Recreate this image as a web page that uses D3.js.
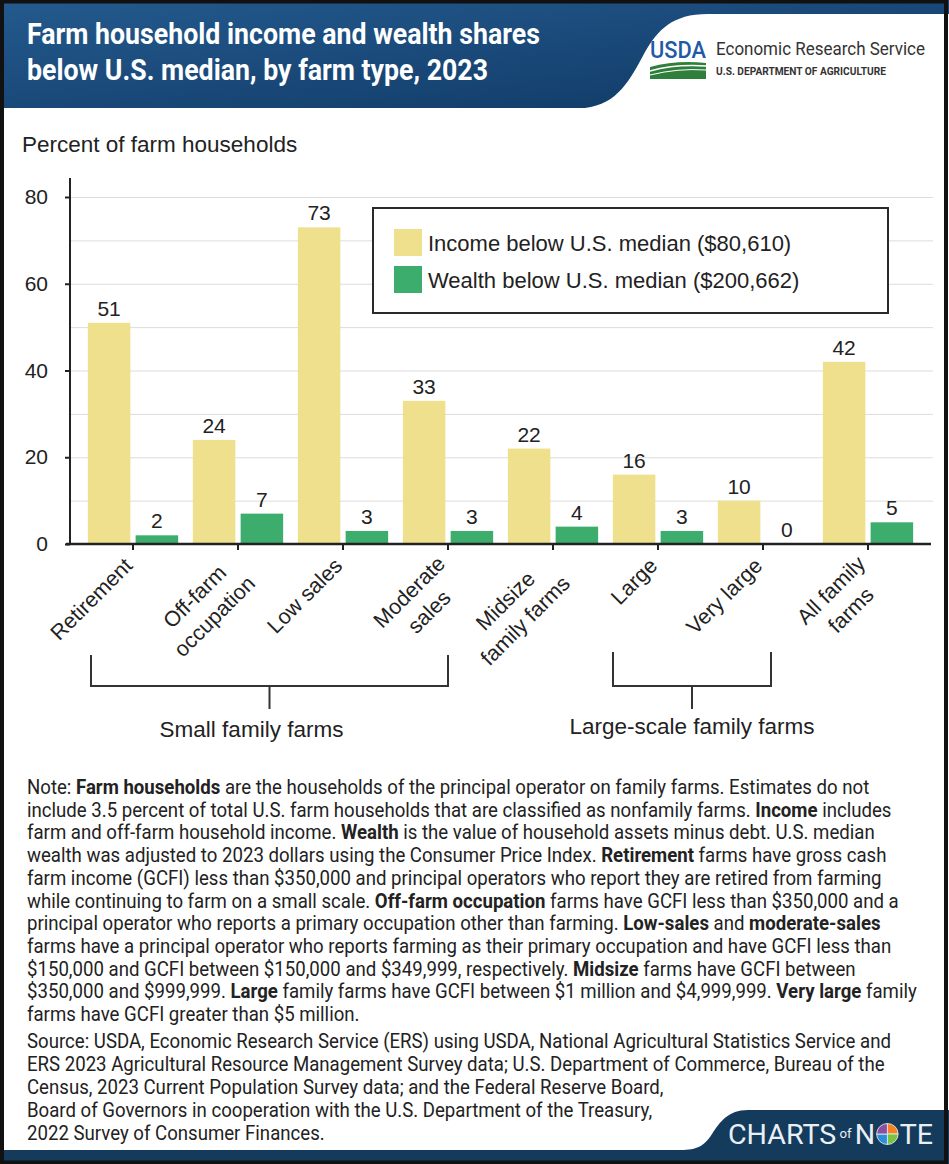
<!DOCTYPE html>
<html>
<head>
<meta charset="utf-8">
<script src="https://cdn.jsdelivr.net/npm/d3@7"></script>
<style>
  body { margin: 0; background: #fff; }
  svg { display: block; }
</style>
</head>
<body>
<svg id="chart" width="949" height="1164"></svg>
<script>
// data
const categories = ["Retirement", "Off-farm occupation", "Low sales", "Moderate sales",
  "Midsize family farms", "Large", "Very large", "All family farms"];
const labelLines = [["Retirement"], ["Off-farm", "occupation"], ["Low sales"], ["Moderate", "sales"],
  ["Midsize", "family farms"], ["Large"], ["Very large"], ["All family", "farms"]];
const incomeBelow = [51, 24, 73, 33, 22, 16, 10, 42];
const wealthBelow = [2, 7, 3, 3, 4, 3, 0, 5];
const yTicks = [0, 20, 40, 60, 80];
const gridTicks = [10, 20, 30, 40, 50, 60, 70, 80];
const seriesKeys = ["income", "wealth"];
const seriesNames = ["Income below U.S. median ($80,610)", "Wealth below U.S. median ($200,662)"];
const seriesColors = ["#efe08d", "#3dad6d"];
const groups = [
  { label: "Small family farms", from: "Retirement", to: "Moderate sales" },
  { label: "Large-scale family farms", from: "Large", to: "Very large" }
];
const titleLines = ["Farm household income and wealth shares", "below U.S. median, by farm type, 2023"];
const yTitle = "Percent of farm households";
const noteLines = [
  "Note: **Farm households** are the households of the principal operator on family farms. Estimates do not",
  "include 3.5 percent of total U.S. farm households that are classified as nonfamily farms. **Income** includes",
  "farm and off-farm household income. **Wealth** is the value of household assets minus debt. U.S. median",
  "wealth was adjusted to 2023 dollars using the Consumer Price Index. **Retirement** farms have gross cash",
  "farm income (GCFI) less than $350,000 and principal operators who report they are retired from farming",
  "while continuing to farm on a small scale. **Off-farm occupation** farms have GCFI less than $350,000 and a",
  "principal operator who reports a primary occupation other than farming. **Low-sales** and **moderate-sales**",
  "farms have a principal operator who reports farming as their primary occupation and have GCFI less than",
  "$150,000 and GCFI between $150,000 and $349,999, respectively. **Midsize** farms have GCFI between",
  "$350,000 and $999,999. **Large** family farms have GCFI between $1 million and $4,999,999. **Very large** family",
  "farms have GCFI greater than $5 million."
];
const sourceLines = [
  "Source: USDA, Economic Research Service (ERS) using USDA, National Agricultural Statistics Service and",
  "ERS 2023 Agricultural Resource Management Survey data; U.S. Department of Commerce, Bureau of the",
  "Census, 2023 Current Population Survey data; and the Federal Reserve Board,",
  "Board of Governors in cooperation with the U.S. Department of the Treasury,",
  "2022 Survey of Consumer Finances."
];
const logoColors = ["#f58220", "#7cc242", "#2b8fd8", "#8c4f9f"];

const svg = d3.select("#chart");
const W = 949, H = 1164;
const chartFont = "'Liberation Sans', Arial, sans-serif";
const noteFont = "Roboto, 'Liberation Sans', sans-serif";
const ink = "#222";

svg.append("rect").attr("width", W).attr("height", H).attr("fill", "#fff");

// ---- header band ----
const defs = svg.append("defs");
const grad = defs.append("linearGradient").attr("id", "hdr")
  .attr("x1", 0).attr("y1", 0).attr("x2", 1).attr("y2", 1);
grad.append("stop").attr("offset", 0).attr("stop-color", "#245a8e");
grad.append("stop").attr("offset", 1).attr("stop-color", "#0f3864");

svg.append("rect").attr("x", 0).attr("y", 0).attr("width", W).attr("height", 108).attr("fill", "url(#hdr)");
svg.append("path")
  .attr("d", "M949,14 L708,14 C672,14 658,30 645,52 C630,80 618,104 585,108 L949,108 Z")
  .attr("fill", "#fff");

// title, squeezed to the condensed look
const title = svg.append("g");
titleLines.forEach((t, i) => {
  title.append("text")
    .attr("y", 44 + i * 36)
    .attr("fill", "#fff")
    .attr("font-family", noteFont)
    .attr("font-weight", 700)
    .attr("font-size", 29)
    .text(t);
});
const tw = title.select("text").node().getComputedTextLength();
title.attr("transform", `translate(27,0) scale(${513 / tw},1)`);

// USDA logo
svg.append("text").attr("x", 650).attr("y", 58).attr("font-family", noteFont)
  .attr("font-size", 24).attr("font-weight", 500).attr("fill", "#1f5aa8")
  .attr("textLength", 56).attr("lengthAdjust", "spacingAndGlyphs").text("USDA");
svg.append("path").attr("d", "M650,79 L650,67 Q676,60 706,63 L706,79 Z").attr("fill", "#2f7f3c");
svg.append("path").attr("d", "M650,71 Q675,64 706,66").attr("fill", "none").attr("stroke", "#fff").attr("stroke-width", 1.5);
svg.append("path").attr("d", "M650,75 Q678,68 706,70").attr("fill", "none").attr("stroke", "#fff").attr("stroke-width", 1);
svg.append("text").attr("x", 716).attr("y", 55).attr("font-family", noteFont)
  .attr("font-size", 18).attr("fill", "#333")
  .attr("textLength", 209).attr("lengthAdjust", "spacingAndGlyphs").text("Economic Research Service");
svg.append("text").attr("x", 716).attr("y", 75).attr("font-family", noteFont)
  .attr("font-size", 10).attr("font-weight", 700).attr("fill", "#333")
  .attr("textLength", 170).attr("lengthAdjust", "spacingAndGlyphs").text("U.S. DEPARTMENT OF AGRICULTURE");

// ---- chart ----
const x0 = d3.scaleBand().domain(categories).range([80.5, 920.5]).paddingInner(0.14).paddingOuter(0.07);
const x1 = d3.scaleBand().domain(seriesKeys).range([0, x0.bandwidth()]).paddingInner(0.11);
const y = d3.scaleLinear().domain([0, 80]).range([544, 197]);
const color = d3.scaleOrdinal().domain(seriesKeys).range(seriesColors);

const rows = categories.map((c, i) => ({ cat: c, income: incomeBelow[i], wealth: wealthBelow[i] }));

svg.append("text").attr("x", 22).attr("y", 152).attr("font-family", chartFont)
  .attr("font-size", 22.5).attr("fill", ink).text(yTitle);

// gridlines
svg.append("g")
  .attr("transform", "translate(70,0)")
  .call(d3.axisLeft(y).tickValues(gridTicks).tickSize(-863).tickFormat(""))
  .call(g => g.select(".domain").remove())
  .call(g => g.selectAll("line").attr("stroke", "#dcdcdc").attr("stroke-width", 1));

// y axis
const yAxis = svg.append("g")
  .attr("transform", "translate(70,0)")
  .call(d3.axisLeft(y).tickValues(yTicks).tickSize(5).tickPadding(17))
  .call(g => g.select(".domain").remove());
yAxis.selectAll("line").attr("stroke", ink).attr("stroke-width", 2);
yAxis.selectAll("text").attr("font-family", chartFont).attr("font-size", 21).attr("fill", ink);
svg.append("line").attr("x1", 70).attr("x2", 70).attr("y1", 178).attr("y2", y(0))
  .attr("stroke", ink).attr("stroke-width", 2);

// bars
const catG = svg.append("g").selectAll("g").data(rows).join("g")
  .attr("transform", d => `translate(${x0(d.cat)},0)`);
catG.selectAll("rect").data(d => seriesKeys.map(k => ({ key: k, value: d[k] }))).join("rect")
  .attr("x", d => x1(d.key))
  .attr("y", d => y(d.value))
  .attr("width", x1.bandwidth())
  .attr("height", d => y(0) - y(d.value))
  .attr("fill", d => color(d.key));
catG.selectAll("text").data(d => seriesKeys.map(k => ({ key: k, value: d[k] }))).join("text")
  .attr("x", d => x1(d.key) + x1.bandwidth() / 2)
  .attr("y", d => y(d.value) - 7)
  .attr("text-anchor", "middle")
  .attr("font-family", chartFont).attr("font-size", 21).attr("fill", ink)
  .text(d => d.value);

// x axis
const xAxis = svg.append("g")
  .attr("transform", `translate(0,${y(0)})`)
  .call(d3.axisBottom(x0).tickSize(6).tickFormat("").tickSizeOuter(0));
xAxis.select(".domain").attr("d", "M66,0H931").attr("stroke", ink).attr("stroke-width", 2.5);
xAxis.selectAll(".tick line").attr("stroke", ink).attr("stroke-width", 2);

// rotated category labels
categories.forEach((c, i) => {
  const g = svg.append("g")
    .attr("transform", `translate(${x0(c) + x0.bandwidth() / 2},548) rotate(-45)`);
  const lines = labelLines[i];
  const ts = lines.map(t => g.append("text")
    .attr("font-family", chartFont).attr("font-size", 21.5).attr("fill", ink).text(t));
  if (lines.length === 1) {
    ts[0].attr("text-anchor", "end").attr("x", -13).attr("y", 14);
  } else {
    const maxW = d3.max(ts, t => t.node().getComputedTextLength());
    ts.forEach((t, j) => t.attr("text-anchor", "middle").attr("x", -13 - maxW / 2).attr("y", 11 + j * 28));
  }
});

// group brackets
const cx = c => x0(c) + x0.bandwidth() / 2;
const brackets = [
  { left: cx(groups[0].from) - 42, right: cx(groups[0].to), top: 655, ly: 737, dx: -18 },
  { left: cx(groups[1].from) - 45, right: cx(groups[1].to) + 8, top: 652, ly: 734, dx: 0 }
];
brackets.forEach((b, i) => {
  const mid = (b.left + b.right) / 2;
  svg.append("path")
    .attr("d", `M${b.left},${b.top}V686H${b.right}V${b.top}M${mid},686V709`)
    .attr("fill", "none").attr("stroke", "#333").attr("stroke-width", 2);
  svg.append("text").attr("x", mid + b.dx).attr("y", b.ly)
    .attr("text-anchor", "middle").attr("font-family", chartFont)
    .attr("font-size", 22.5).attr("fill", ink).text(groups[i].label);
});

// legend
const lg = svg.append("g");
lg.append("rect").attr("x", 373).attr("y", 208).attr("width", 515).attr("height", 105)
  .attr("fill", "#fff").attr("stroke", "#2a2a2a").attr("stroke-width", 2);
seriesKeys.forEach((k, i) => {
  lg.append("rect").attr("x", 394).attr("y", 229 + i * 37).attr("width", 28).attr("height", 27)
    .attr("fill", color(k));
  lg.append("text").attr("x", 428).attr("y", 251 + i * 37)
    .attr("font-family", chartFont).attr("font-size", 22).attr("fill", ink).text(seriesNames[i]);
});

// ---- notes ----
function richLine(parent, str, yy) {
  const t = parent.append("text").attr("y", yy).attr("font-family", noteFont)
    .attr("font-size", 20.5).attr("fill", ink);
  str.split("**").forEach((seg, k) => {
    if (seg) t.append("tspan").attr("font-weight", k % 2 ? 700 : 400).text(seg);
  });
  return t;
}
const notes = svg.append("g");
const noteTexts = noteLines.map((s, i) => richLine(notes, s, 794 + i * 22.7));
sourceLines.forEach((s, i) => richLine(notes, s, 1048 + i * 23));
const longest = noteTexts[9].node().getComputedTextLength();
notes.attr("transform", `translate(27,0) scale(${890 / longest},1)`);

// ---- footer ----
svg.append("path")
  .attr("d", "M949,1110 L748,1110 C728,1110 720,1122 712,1134 C704,1146 698,1150 680,1150 L0,1150 L0,1164 L949,1164 Z")
  .attr("fill", "#143a5c");
const brand = svg.append("g");
let bx = 0;
function brandText(t, size, yy) {
  const el = brand.append("text").attr("x", bx).attr("y", yy).attr("font-family", noteFont)
    .attr("font-size", size).attr("fill", "#e9f0f4").text(t);
  bx += el.node().getComputedTextLength();
}
brandText("CHARTS", 28, 0); bx += 3;
brandText("of", 13, -6); bx += 3;
brandText("N", 28, 0); bx += 1;
const pie = d3.pie().sort(null)([1, 1, 1, 1]);
const arc = d3.arc().innerRadius(0).outerRadius(10.5);
brand.append("g").attr("transform", `translate(${bx + 11},-10)`)
  .selectAll("path").data(pie).join("path")
  .attr("d", arc).attr("fill", (d, i) => logoColors[i]).attr("stroke", "#e9f0f4").attr("stroke-width", 0.8);
bx += 23;
brandText("TE", 28, 0);
brand.attr("transform", `translate(728,1144) scale(${205 / bx},1)`);

// dark frame
svg.append("rect").attr("x", 2).attr("y", 1.5).attr("width", W - 5).attr("height", H - 3)
  .attr("fill", "none").attr("stroke", "#111").attr("stroke-width", 4);
</script>
</body>
</html>
